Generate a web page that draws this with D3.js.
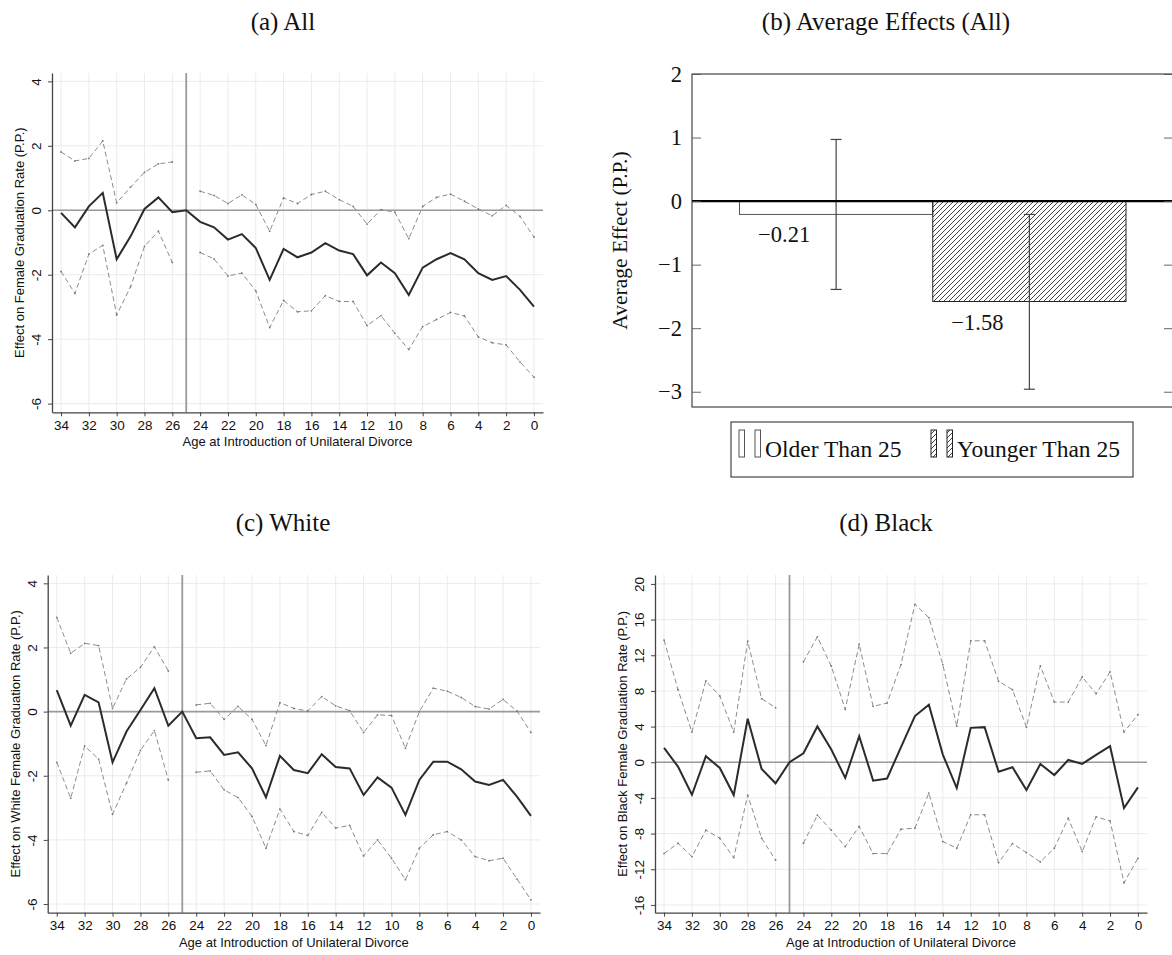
<!DOCTYPE html>
<html>
<head>
<meta charset="utf-8">
<script src="https://cdn.jsdelivr.net/npm/d3@7"></script>
<style>
  body { margin: 0; background: #fff; }
  svg { display: block; }
</style>
</head>
<body>
<script>
// x axis: age at introduction of unilateral divorce
var ages = [34,33,32,31,30,29,28,27,26,25,24,23,22,21,20,19,18,17,16,15,14,13,12,11,10,9,8,7,6,5,4,3,2,1,0];
var xTicks = [34,32,30,28,26,24,22,20,18,16,14,12,10,8,6,4,2,0];

// (a) All
var allEst = [-0.08,-0.53,0.12,0.54,-1.52,-0.81,0.04,0.40,-0.06,0,-0.36,-0.53,-0.91,-0.74,-1.17,-2.16,-1.20,-1.46,-1.31,-1.02,-1.25,-1.36,-2.02,-1.62,-1.95,-2.63,-1.78,-1.52,-1.33,-1.52,-1.95,-2.16,-2.04,-2.47,-2.99];
var allHi = [1.81,1.53,1.61,2.15,0.23,0.72,1.18,1.44,1.50,null,0.59,0.46,0.21,0.48,0.18,-0.65,0.38,0.21,0.49,0.59,0.33,0.12,-0.43,0.02,-0.06,-0.88,0.12,0.40,0.50,0.28,0.04,-0.17,0.15,-0.19,-0.83];
var allLo = [-1.90,-2.58,-1.36,-1.09,-3.25,-2.37,-1.12,-0.65,-1.62,null,-1.31,-1.51,-2.04,-1.95,-2.50,-3.64,-2.80,-3.15,-3.12,-2.65,-2.83,-2.83,-3.58,-3.27,-3.82,-4.32,-3.61,-3.39,-3.17,-3.28,-3.93,-4.11,-4.18,-4.71,-5.18];

// (c) White
var whiteEst = [0.67,-0.44,0.52,0.29,-1.58,-0.62,0.05,0.73,-0.44,0,-0.83,-0.80,-1.35,-1.27,-1.77,-2.67,-1.38,-1.82,-1.92,-1.33,-1.73,-1.77,-2.60,-2.05,-2.37,-3.22,-2.13,-1.56,-1.56,-1.80,-2.18,-2.29,-2.13,-2.65,-3.25];
var whiteHi = [2.94,1.82,2.13,2.06,0.10,1.02,1.38,2.02,1.27,null,0.21,0.26,-0.24,0.16,-0.24,-1.06,0.28,0.10,0.02,0.47,0.18,0.03,-0.65,-0.10,-0.12,-1.14,0,0.73,0.64,0.44,0.16,0.08,0.38,0.02,-0.65];
var whiteLo = [-1.58,-2.70,-1.07,-1.48,-3.20,-2.23,-1.21,-0.59,-2.13,null,-1.89,-1.85,-2.44,-2.68,-3.27,-4.26,-3.04,-3.74,-3.86,-3.14,-3.63,-3.55,-4.50,-4.00,-4.57,-5.24,-4.26,-3.84,-3.74,-4.00,-4.52,-4.65,-4.57,-5.22,-5.87];

// (d) Black
var blackEst = [1.61,-0.49,-3.64,0.68,-0.64,-3.68,4.88,-0.75,-2.36,0,1.01,4.02,1.43,-1.76,2.93,-2.06,-1.82,1.69,5.18,6.45,0.86,-2.89,3.86,3.94,-1.05,-0.56,-3.11,-0.19,-1.43,0.26,-0.19,0.83,1.80,-5.14,-2.81];
var blackHi = [13.70,8.14,3.38,9.12,7.43,3.38,13.58,7.13,6.12,null,11.26,14.07,10.77,5.93,13.25,6.27,6.64,10.96,17.71,16.21,10.96,4.05,13.62,13.62,9.08,8.14,3.94,10.81,6.75,6.75,9.57,7.69,10.13,3.38,5.33];
var blackLo = [-10.24,-9.08,-10.58,-7.62,-8.52,-10.69,-3.68,-8.52,-10.96,null,-9.08,-5.93,-7.62,-9.46,-7.20,-10.24,-10.24,-7.50,-7.39,-3.45,-8.89,-9.64,-5.89,-5.89,-11.26,-9.12,-10.13,-11.18,-9.64,-6.27,-10.02,-6.12,-6.57,-13.51,-10.77];

// (b) Average effects
var barGroups = ["Older Than 25", "Younger Than 25"];
var barMeans = [-0.21, -1.58];
var barCiLo = [-1.39, -2.96];
var barCiHi = [0.97, -0.21];
var barTicks = [-3, -2, -1, 0, 1, 2];

var sans = "'Liberation Sans', Arial, sans-serif";
var serif = "'Liberation Serif', 'Times New Roman', serif";

var svg = d3.select("body").append("svg")
  .attr("width", 1172)
  .attr("height", 955);

// hatch pattern for the "younger" bar
var defs = svg.append("defs");
defs.append("pattern")
  .attr("id", "hatch")
  .attr("patternUnits", "userSpaceOnUse")
  .attr("width", 5)
  .attr("height", 5)
  .append("path")
  .attr("d", "M-1,1 l2,-2 M0,5 l5,-5 M4,6 l2,-2")
  .attr("stroke", "#111")
  .attr("stroke-width", 0.8);

// Stata style event-study panel
function drawEventPanel(opt) {
  var g = svg.append("g");

  var x = d3.scaleLinear().domain([34.65, -0.65]).range([opt.left, opt.right]);
  var y = d3.scaleLinear().domain(opt.yDomain).range([opt.bottom, opt.top]);

  // gridlines
  g.selectAll(null).data(opt.yTicks).enter().append("line")
    .attr("x1", opt.left).attr("x2", opt.right)
    .attr("y1", d => y(d)).attr("y2", d => y(d))
    .attr("stroke", "#ebebeb").attr("stroke-width", 1);
  g.selectAll(null).data(xTicks).enter().append("line")
    .attr("x1", d => x(d)).attr("x2", d => x(d))
    .attr("y1", opt.top).attr("y2", opt.bottom)
    .attr("stroke", "#ebebeb").attr("stroke-width", 1);

  // reference lines
  g.append("line")
    .attr("x1", opt.left).attr("x2", opt.right)
    .attr("y1", y(0)).attr("y2", y(0))
    .attr("stroke", "#9a9a9a").attr("stroke-width", 1.6);
  g.append("line")
    .attr("x1", x(25)).attr("x2", x(25))
    .attr("y1", opt.top).attr("y2", opt.bottom)
    .attr("stroke", "#9a9a9a").attr("stroke-width", 1.8);

  var rows = ages.map((a, i) => ({age: a, est: opt.est[i], hi: opt.hi[i], lo: opt.lo[i]}));

  var ciLine = key => d3.line()
    .defined(d => d[key] != null)
    .x(d => x(d.age))
    .y(d => y(d[key]));

  ["hi", "lo"].forEach(key => {
    g.append("path")
      .datum(rows)
      .attr("d", ciLine(key))
      .attr("fill", "none")
      .attr("stroke", "#8c8c8c")
      .attr("stroke-width", 1)
      .attr("stroke-dasharray", "5,3");
    g.selectAll(null).data(rows.filter(d => d[key] != null)).enter().append("circle")
      .attr("cx", d => x(d.age))
      .attr("cy", d => y(d[key]))
      .attr("r", 0.9)
      .attr("fill", "#777");
  });

  g.append("path")
    .datum(rows)
    .attr("d", d3.line().x(d => x(d.age)).y(d => y(d.est)))
    .attr("fill", "none")
    .attr("stroke", "#2b2b2b")
    .attr("stroke-width", 2);

  // axes
  var xAxis = g.append("g")
    .attr("transform", `translate(0,${opt.bottom})`)
    .call(d3.axisBottom(x).tickValues(xTicks).tickSize(4).tickSizeOuter(0).tickPadding(4).tickFormat(d => String(d)));
  var yAxis = g.append("g")
    .attr("transform", `translate(${opt.left},0)`)
    .call(d3.axisLeft(y).tickValues(opt.yTicks).tickSize(4).tickSizeOuter(0).tickFormat(d => String(d)));

  [xAxis, yAxis].forEach(ax => {
    ax.select(".domain").attr("stroke", "#444").attr("stroke-width", 1.3);
    ax.selectAll(".tick line").attr("stroke", "#444");
    ax.selectAll("text").attr("fill", "#111").style("font-family", sans).style("font-size", "13.5px");
  });
  yAxis.selectAll("text")
    .attr("x", 0).attr("dy", 0)
    .attr("text-anchor", "middle")
    .attr("transform", "translate(-11,0) rotate(-90)");

  // axis titles
  g.append("text")
    .attr("x", (opt.left + opt.right) / 2)
    .attr("y", opt.bottom + 34)
    .attr("text-anchor", "middle")
    .style("font-family", sans).style("font-size", "13px").attr("fill", "#111")
    .text("Age at Introduction of Unilateral Divorce");
  g.append("text")
    .attr("transform", `translate(${opt.left - 28},${(opt.top + opt.bottom) / 2}) rotate(-90)`)
    .attr("text-anchor", "middle")
    .style("font-family", sans).style("font-size", "13px").attr("fill", "#111")
    .text(opt.yTitle);
}

drawEventPanel({
  left: 52, right: 543, top: 73, bottom: 412.3,
  yDomain: [-6.27, 4.26], yTicks: [4, 2, 0, -2, -4, -6],
  est: allEst, hi: allHi, lo: allLo,
  yTitle: "Effect on Female Graduation Rate (P.P.)"
});
drawEventPanel({
  left: 47.7, right: 540, top: 575, bottom: 912.7,
  yDomain: [-6.27, 4.26], yTicks: [4, 2, 0, -2, -4, -6],
  est: whiteEst, hi: whiteHi, lo: whiteLo,
  yTitle: "Effect on White Female Graduation Rate (P.P.)"
});
drawEventPanel({
  left: 655, right: 1147, top: 575, bottom: 912.7,
  yDomain: [-16.87, 21.0], yTicks: [20, 16, 12, 8, 4, 0, -4, -8, -12, -16],
  est: blackEst, hi: blackHi, lo: blackLo,
  yTitle: "Effect on Black Female Graduation Rate (P.P.)"
});

// (b) bar chart of average effects
var box = {left: 692, right: 1173, top: 74, bottom: 407};
var bY = d3.scaleLinear().domain([-3.24, 2]).range([box.bottom, box.top]);
var bX = d3.scaleBand().domain(barGroups).range([739.5, 1126]);
var minus = v => (v < 0 ? "\u2212" + Math.abs(v) : String(v));
var bg = svg.append("g");

bg.selectAll(null).data(barGroups).enter().append("rect")
  .attr("x", d => bX(d))
  .attr("width", bX.bandwidth())
  .attr("y", bY(0))
  .attr("height", (d, i) => bY(barMeans[i]) - bY(0))
  .attr("fill", (d, i) => i === 0 ? "#fff" : "url(#hatch)")
  .attr("stroke", (d, i) => i === 0 ? "#555" : "#222")
  .attr("stroke-width", 1);

// error bars
barGroups.forEach((d, i) => {
  var cx = bX(d) + bX.bandwidth() / 2;
  bg.append("line").attr("x1", cx).attr("x2", cx)
    .attr("y1", bY(barCiHi[i])).attr("y2", bY(barCiLo[i]))
    .attr("stroke", "#444").attr("stroke-width", 1.2);
  [barCiHi[i], barCiLo[i]].forEach(v => {
    bg.append("line").attr("x1", cx - 5.5).attr("x2", cx + 5.5)
      .attr("y1", bY(v)).attr("y2", bY(v))
      .attr("stroke", "#444").attr("stroke-width", 1.2);
  });
  bg.append("text")
    .attr("x", cx - 52)
    .attr("y", bY(barMeans[i]) + 28)
    .attr("text-anchor", "middle")
    .style("font-family", serif).style("font-size", "22.5px").attr("fill", "#111")
    .text(minus(barMeans[i]));
});

// frame, zero line and ticks
bg.append("rect")
  .attr("x", box.left).attr("y", box.top)
  .attr("width", box.right - box.left).attr("height", box.bottom - box.top)
  .attr("fill", "none").attr("stroke", "#333").attr("stroke-width", 1.1);
bg.append("line")
  .attr("x1", box.left).attr("x2", box.right)
  .attr("y1", bY(0)).attr("y2", bY(0))
  .attr("stroke", "#000").attr("stroke-width", 2.4);

var lAx = bg.append("g").attr("transform", `translate(${box.left},0)`)
  .call(d3.axisLeft(bY).tickValues(barTicks).tickSize(-9).tickSizeOuter(0).tickPadding(10).tickFormat(minus));
var rAx = bg.append("g").attr("transform", `translate(${box.right},0)`)
  .call(d3.axisRight(bY).tickValues(barTicks).tickSize(-9).tickSizeOuter(0).tickFormat(""));
[lAx, rAx].forEach(ax => {
  ax.select(".domain").remove();
  ax.selectAll(".tick line").attr("stroke", "#555").attr("stroke-width", 0.9);
});
lAx.selectAll("text").attr("fill", "#111").style("font-family", serif).style("font-size", "22.5px");

bg.append("text")
  .attr("transform", `translate(627,${(box.top + box.bottom) / 2}) rotate(-90)`)
  .attr("text-anchor", "middle")
  .style("font-family", serif).style("font-size", "21.5px").attr("fill", "#111")
  .text("Average Effect (P.P.)");

// legend
var leg = bg.append("g");
leg.append("rect")
  .attr("x", 731).attr("y", 422).attr("width", 402).attr("height", 55)
  .attr("fill", "#fff").attr("stroke", "#222").attr("stroke-width", 1);
var legItems = [
  {label: barGroups[0], x: 739, fill: "#fff", stroke: "#555"},
  {label: barGroups[1], x: 931, fill: "url(#hatch)", stroke: "#222"}
];
legItems.forEach(it => {
  [0, 16].forEach(off => {
    leg.append("rect")
      .attr("x", it.x + off).attr("y", 430).attr("width", 5.5).attr("height", 27)
      .attr("fill", it.fill).attr("stroke", it.stroke).attr("stroke-width", 1);
  });
  leg.append("text")
    .attr("x", it.x + 26).attr("y", 457)
    .style("font-family", serif).style("font-size", "23.5px").attr("fill", "#111")
    .text(it.label);
});

// panel titles
var titles = [
  {t: "(a) All", x: 283, y: 30},
  {t: "(b) Average Effects (All)", x: 886, y: 30},
  {t: "(c) White", x: 283, y: 531},
  {t: "(d) Black", x: 886, y: 531}
];
svg.selectAll(null).data(titles).enter().append("text")
  .attr("x", d => d.x).attr("y", d => d.y)
  .attr("text-anchor", "middle")
  .style("font-family", serif).style("font-size", "25px").attr("fill", "#111")
  .text(d => d.t);
</script>
</body>
</html>
